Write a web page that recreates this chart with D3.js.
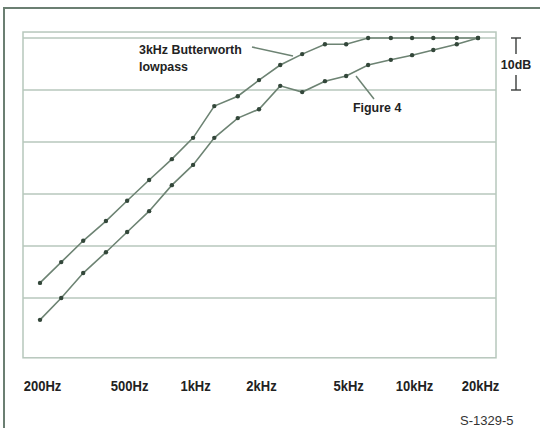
<!DOCTYPE html>
<meta charset="utf-8">
<style>
body { margin: 0; background: #fff; }
.grid line { stroke: #b7c7bc; stroke-width: 1.5px; }
.box { fill: none; stroke: #b7c7bc; stroke-width: 1.5px; }
.curve { fill: none; stroke: #6d8373; stroke-width: 1.6px; }
.dot { fill: #33473a; }
.lbl { font-family: "Liberation Sans", Arial, sans-serif; font-weight: bold; fill: #222; }
.axis--x path, .axis--x line { display: none; }
</style>
<svg width="540" height="428"></svg>
<script src="https://cdnjs.cloudflare.com/ajax/libs/d3/7.8.5/d3.min.js"></script>
<script>
// third-octave points, 200Hz .. 20kHz
var freqs = [200, 250, 315, 400, 500, 630, 800, 1000, 1250, 1600, 2000,
             2500, 3150, 4000, 5000, 6300, 8000, 10000, 12500, 16000, 20000];

var butterworth = [-47.1, -43.1, -39.0, -35.2, -31.3, -27.3, -23.3, -19.2, -13.1, -11.2, -8.1,
                   -5.2, -3.1, -1.2, -1.2, 0, 0, 0, 0, 0, 0];

var figure4 = [-54.2, -50.0, -45.2, -41.2, -37.3, -33.3, -28.3, -24.4, -19.2, -15.4, -13.7,
               -9.2, -10.4, -8.3, -7.3, -5.2, -4.2, -3.3, -2.3, -1.2, 0];

var tickFreqs = [200, 500, 1000, 2000, 5000, 10000, 20000];
var tickLabels = ["200Hz", "500Hz", "1kHz", "2kHz", "5kHz", "10kHz", "20kHz"];
var gridDb = [0, -10, -20, -30, -40, -50];

var svg = d3.select("svg");

var x = d3.scaleLog().domain([200, 20000]).range([40, 478]);
var y = d3.scaleLinear().domain([0, -50]).range([38, 298]);

// outer frame (top and left)
svg.append("path")
    .attr("d", "M4,428V8H540")
    .attr("fill", "none")
    .attr("stroke", "#6b7f72")
    .attr("stroke-width", 2);

// plot box
var boxL = 23, boxR = 496, boxT = y(1.15), boxB = y(-61.5);
svg.append("rect")
    .attr("class", "box")
    .attr("x", boxL).attr("y", boxT)
    .attr("width", boxR - boxL).attr("height", boxB - boxT);

svg.append("g").attr("class", "grid")
  .selectAll("line")
  .data(gridDb)
  .enter().append("line")
    .attr("x1", boxL).attr("x2", boxR)
    .attr("y1", function(d) { return y(d); })
    .attr("y2", function(d) { return y(d); });

// x labels
var xAxis = svg.append("g")
    .attr("class", "axis axis--x")
    .attr("transform", "translate(2,391)")
    .call(d3.axisBottom(x).tickValues(tickFreqs).tickSize(0)
        .tickFormat(function(d, i) { return tickLabels[i]; }));
xAxis.selectAll("text")
    .attr("class", "lbl")
    .attr("dy", 0)
    .attr("y", 0)
    .attr("transform", "scale(0.84,1)")
    .style("font-size", "15.5px");

var line = d3.line()
    .x(function(d) { return x(d[0]); })
    .y(function(d) { return y(d[1]); });

[butterworth, figure4].forEach(function(s) {
  var pts = freqs.map(function(f, i) { return [f, s[i]]; });
  svg.append("path").datum(pts).attr("class", "curve").attr("d", line);
  svg.append("g").selectAll("circle")
    .data(pts)
    .enter().append("circle")
      .attr("class", "dot")
      .attr("r", 2.2)
      .attr("cx", function(d) { return x(d[0]); })
      .attr("cy", function(d) { return y(d[1]); });
});

function label(tx, ty, txt, anchor) {
  return svg.append("text").attr("class", "lbl")
      .attr("transform", "translate(" + tx + "," + ty + ") scale(0.92,1)")
      .attr("text-anchor", anchor || "start")
      .style("font-size", "13.5px").text(txt);
}

// annotations
label(139, 54, "3kHz Butterworth");
label(139, 71, "lowpass");
svg.append("line").attr("x1", 252).attr("y1", 47).attr("x2", 293).attr("y2", 56)
    .attr("stroke", "#6d8373").attr("stroke-width", 1.5);

label(353, 112, "Figure 4");
svg.append("line").attr("x1", 356).attr("y1", 76).attr("x2", 374).attr("y2", 99)
    .attr("stroke", "#6d8373").attr("stroke-width", 1.5);

// 10dB scale bar
var sb = svg.append("g").attr("stroke", "#3a3d3b").attr("stroke-width", 1.4);
var sx = 516, s0 = y(0), s1 = y(-10);
sb.append("line").attr("x1", sx).attr("x2", sx).attr("y1", s0).attr("y2", s0 + 16);
sb.append("line").attr("x1", sx).attr("x2", sx).attr("y1", s1 - 15).attr("y2", s1);
sb.append("line").attr("x1", sx - 5).attr("x2", sx + 5).attr("y1", s0).attr("y2", s0);
sb.append("line").attr("x1", sx - 5).attr("x2", sx + 5).attr("y1", s1).attr("y2", s1);
label(sx, (s0 + s1) / 2 + 5, "10dB", "middle");

svg.append("text").attr("x", 460).attr("y", 425)
    .style("font-family", "'Liberation Sans', Arial, sans-serif")
    .style("font-size", "13px").attr("fill", "#333").text("S-1329-5");
</script>
